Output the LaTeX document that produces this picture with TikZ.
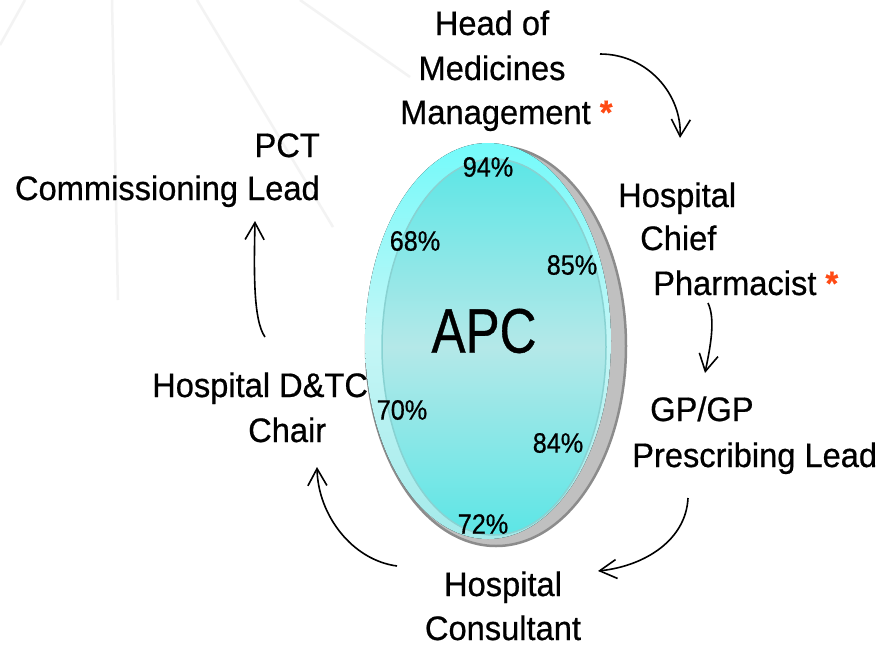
\documentclass[tikz,border=0pt]{standalone}
\usepackage{fontspec}
\setmainfont{Liberation Sans}[FakeStretch=0.96,FakeBold=0.6]
\newfontfamily\apcfont{Liberation Sans}[FakeStretch=0.81,FakeBold=0.6]
\newfontfamily\pctfont{Liberation Sans}[FakeStretch=0.9,FakeBold=0.6]
\usetikzlibrary{arrows.meta}
\definecolor{astc}{HTML}{FF4A14}
\definecolor{bgline}{HTML}{F3F3F3}
\definecolor{shadowfill}{HTML}{C0C0C0}
\definecolor{shadowrim}{HTML}{8C8C8C}
\definecolor{ringtop}{HTML}{74FAFA}
\definecolor{ringmid}{HTML}{C4F6F6}
\definecolor{ringbot}{HTML}{A4EAEA}
\definecolor{innertop}{HTML}{5CE6E6}
\definecolor{innermid}{HTML}{B4E8E8}
\definecolor{inneredge}{HTML}{88D2D2}
\begin{document}
\begin{tikzpicture}[x=1pt,y=-1pt,
  lbl/.style={inner sep=0pt, anchor=base, font=\fontsize{34}{40}\selectfont},
  lblw/.style={lbl, anchor=base west},
  pcent/.style={inner sep=0pt, anchor=center, font=\pctfont\fontsize{28}{32}\selectfont},
  conn/.style={-{Straight Barb[length=17pt,width=19pt,line width=1.6pt]}, line width=1.6pt},
  ast/.style={text=astc, font=\bfseries}]
\useasboundingbox (0,0) rectangle (884,648);
\fill[white] (0,0) rectangle (884,648);
% faint background lines
\draw[bgline, line width=2.5pt] (0,45) -- (25,0);
\draw[bgline, line width=2.5pt] (112,0) -- (118,300);
\draw[bgline, line width=2.5pt] (197,0) -- (333,227);
\draw[bgline, line width=2.5pt] (300,0) -- (410,77);
% ellipse
\fill[shadowfill, draw=shadowrim, line width=2.5pt] (496,346) ellipse [x radius=130pt, y radius=200pt];
\fill[top color=ringtop, bottom color=ringbot, middle color=ringmid] (488,341) ellipse [x radius=123pt, y radius=198pt];
\fill[top color=innertop, bottom color=innertop, middle color=innermid, draw=inneredge, line width=1.5pt] (494,347) ellipse [x radius=112pt, y radius=188pt];
\node[inner sep=0pt, font=\apcfont\fontsize{63}{70}\selectfont] (apc) at (484,331) {APC};
% percentages
\node[pcent] (p94) at (488,167) {94\%};
\node[pcent] (p68) at (415,241) {68\%};
\node[pcent] (p85) at (572,265) {85\%};
\node[pcent] (p70) at (402,410) {70\%};
\node[pcent] (p84) at (558,443) {84\%};
\node[pcent] (p72) at (483,524) {72\%};
% labels
\node[lbl] (hm1) at (492,35) {Head of};
\node[lbl] (hm2) at (492,80) {Medicines};
\node[lblw] (hm3) at (400,124) {Management {\color{astc}\bfseries *}};
\node[lbl, anchor=base east] (pct1) at (320,157) {PCT};
\node[lbl, anchor=base east] (pct2) at (320,200) {Commissioning Lead};
\node[lblw] (hc1) at (618,207) {Hospital};
\node[lblw] (hc2) at (640,250) {Chief};
\node[lblw] (hc3) at (653,295) {Pharmacist {\color{astc}\bfseries *}};
\node[lblw] (gp1) at (650,421) {GP/GP};
\node[lblw] (gp2) at (632,467) {Prescribing Lead};
\node[lblw] (dt1) at (152,397) {Hospital D\&TC};
\node[lblw] (dt2) at (248,442) {Chair};
\node[lbl] (hcon1) at (503,596) {Hospital};
\node[lbl] (hcon2) at (503,640) {Consultant};
% connectors
\coordinate (a1s) at (600,54);  \coordinate (a1e) at (680,138);
\coordinate (a2s) at (708,303); \coordinate (a2e) at (705,373);
\coordinate (a3s) at (688,498); \coordinate (a3e) at (598,571);
\coordinate (a4s) at (397,566); \coordinate (a4e) at (317,467);
\coordinate (a5s) at (265,337); \coordinate (a5e) at (255,221);
\draw[conn] (a1s) .. controls (648,54) and (682,95) .. (a1e);
\draw[conn] (a2s) .. controls (716,320) and (710,348) .. (a2e);
\draw[conn] (a3s) .. controls (686,540) and (645,566) .. (a3e);
\draw[conn] (a4s) .. controls (352,560) and (318,515) .. (a4e);
\draw[conn] (a5s) .. controls (253,320) and (254,270) .. (a5e);
\end{tikzpicture}
\end{document}
